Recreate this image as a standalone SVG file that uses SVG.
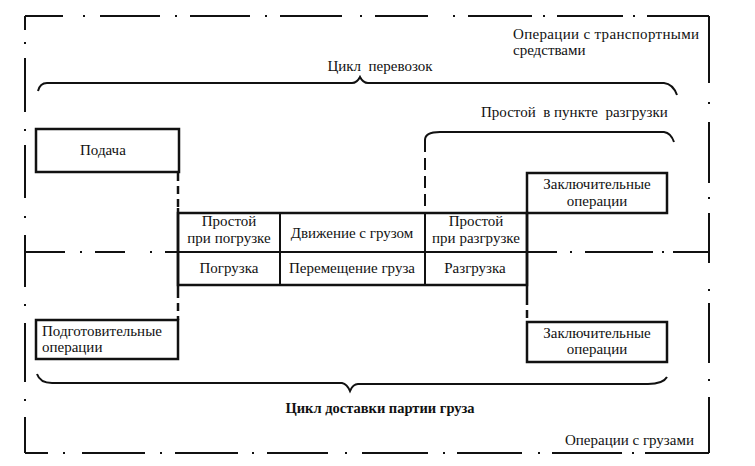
<svg xmlns="http://www.w3.org/2000/svg" width="755" height="466" viewBox="0 0 755 466" font-family="'Liberation Serif', 'Times New Roman', 'DejaVu Serif', serif">
<style>
.frame{fill:none;stroke:#111;stroke-width:2}
.box{fill:none;stroke:#111;stroke-width:2.5}
.ln{fill:none;stroke:#111;stroke-width:2}
.dash{fill:none;stroke:#111;stroke-width:2.5;stroke-dasharray:8 5}
.brace{fill:none;stroke:#111;stroke-width:2}
text{font-family:'Liberation Serif','Times New Roman','DejaVu Serif',serif;font-size:15px;fill:#111}
.c{text-anchor:middle}
.b{font-weight:bold;font-size:14.5px}
</style>
<rect width="755" height="466" fill="#fff"/>
<g id="frame">
<path class="frame" d="M25 16H63M83 16h2M100 16H160M175 16h2M190 16H250M265 16h2M280 16H342M360 16h2M375 16H428M453 16h2M468 16H532M543 16h2M557 16H623M633 16h2M647 16H709"/>
<path class="frame" d="M709 16V83M709 102v2M709 122V183M709 197v2M709 213V263M709 289v2M709 303V363M709 379v2M709 397V453"/>
<path class="frame" d="M25 453H48M63 453h2M82 453H145M160 453h2M175 453H238M252 453h2M267 453H328M345 453h2M362 453H428M443 453h2M457 453H522M538 453h2M552 453H622M632 453h2M645 453H709"/>
<path class="frame" d="M25 16V30M25 42v2M25 58V112M25 129v2M25 145V198M25 216v2M25 235V287M25 304v2M25 323V382M25 399v2M25 417V453"/>
<path class="frame" d="M25 252H65M80 252h2M95 252H125M150 252h2M165 252H178M527 252H557M570 252h2M585 252H653M662 252h2M673 252H709"/>
<text x="513" y="39" textLength="186" lengthAdjust="spacing">Операции с транспортными</text>
<text x="513" y="55">средствами</text>
<text x="565" y="445">Операции с грузами</text>
</g>
<g id="braces">
<path class="brace" d="M38 91Q40 83 47 83H352Q357 83 360 77Q363 83 368 83H664Q673 84 677 95"/>
<text x="380" y="71" class="c" xml:space="preserve">Цикл  перевозок</text>
<path class="brace" d="M425 140Q425 132 440 132H664Q671 133 674 142"/>
<text x="481" y="117" xml:space="preserve">Простой  в пункте  разгрузки</text>
<path class="brace" d="M37 374Q40 383 52 383H342Q347 384 350 391Q353 384 358 384H648Q663 384 667 377"/>
<text x="380" y="413" class="c b">Цикл доставки партии груза</text>
</g>
<g id="podacha">
<rect class="box" x="36" y="129" width="143" height="43"/>
<text x="80" y="155">Подача</text>
</g>
<g id="podgotovitelnye">
<rect class="box" x="36" y="320" width="142" height="39"/>
<text x="42" y="336">Подготовительные</text>
<text x="42" y="352">операции</text>
</g>
<g id="zakl-top">
<rect class="box" x="527" y="173" width="140" height="40"/>
<text x="597" y="189" class="c">Заключительные</text>
<text x="597" y="206" class="c">операции</text>
</g>
<g id="zakl-bottom">
<rect class="box" x="527" y="322" width="140" height="40"/>
<text x="597" y="338" class="c">Заключительные</text>
<text x="597" y="354" class="c">операции</text>
</g>
<g id="table">
<rect class="box" x="178" y="213" width="349" height="72"/>
<path class="ln" d="M178 252H527M280 213V285M425 213V285"/>
<path class="box" d="M178 208V290M527 213V297"/>
<text x="229" y="226" class="c">Простой</text>
<text x="229" y="243" class="c">при погрузке</text>
<text x="352" y="238" class="c">Движение с грузом</text>
<text x="229" y="273" class="c">Погрузка</text>
<text x="352" y="273" class="c">Перемещение груза</text>
<text x="476" y="226" class="c">Простой</text>
<text x="476" y="243" class="c">при разгрузке</text>
<text x="475" y="273" class="c">Разгрузка</text>
</g>
<g id="connectors">
<path class="dash" d="M178 173V208M178 290V320M527 297V322"/>
<path class="dash" d="M425 140V213" style="stroke-width:2;stroke-dasharray:12 6"/>
</g>
</svg>
